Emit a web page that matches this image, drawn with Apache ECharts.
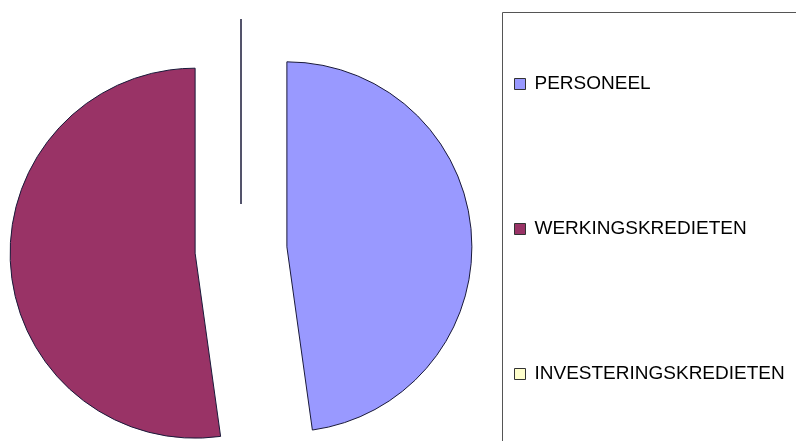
<!DOCTYPE html>
<html>
<head>
<meta charset="utf-8">
<script src="https://cdn.jsdelivr.net/npm/echarts@6/dist/echarts.min.js"></script>
<style>html,body{margin:0;padding:0;background:#fff}#c{width:796px;height:441px}</style>
</head>
<body>
<div id="c"></div>
<script>
var categories = ['PERSONEEL', 'WERKINGSKREDIETEN', 'INVESTERINGSKREDIETEN'];
var values = [47.8, 52.2, 0];
var colors = ['#9999FF', '#993366', '#FFFFCC'];

var chart = echarts.init(document.getElementById('c'), null, {renderer: 'canvas'});
var data = categories.map(function (n, i) {
  return {name: n, value: values[i], selected: true, itemStyle: {color: colors[i]}};
});
chart.setOption({
  animation: false,
  backgroundColor: '#fff',
  graphic: [{
    type: 'rect', left: 500, top: 10, silent: true,
    shape: {width: 400, height: 500},
    style: {fill: 'none', stroke: '#555', lineWidth: 1}
  }],
  legend: {
    orient: 'vertical',
    left: 514, top: 74,
    padding: 0,
    itemWidth: 11, itemHeight: 11,
    itemGap: 125,
    icon: 'rect',
    selectedMode: false,
    itemStyle: {borderColor: '#333', borderWidth: 1},
    textStyle: {fontFamily: 'Liberation Sans, Arial, sans-serif', fontSize: 19, color: '#000', lineHeight: 20, padding: [0, 0, 0, 4]},
    data: categories
  },
  series: [{
    type: 'pie',
    center: [241, 250],
    radius: 185,
    startAngle: 90,
    clockwise: true,
    selectedMode: 'multiple',
    selectedOffset: 46,
    avoidLabelOverlap: false,
    label: {show: false},
    labelLine: {show: false},
    emphasis: {disabled: true},
    itemStyle: {borderColor: '#1a1a3a', borderWidth: 1},
    data: data
  }]
});
</script>
</body>
</html>
